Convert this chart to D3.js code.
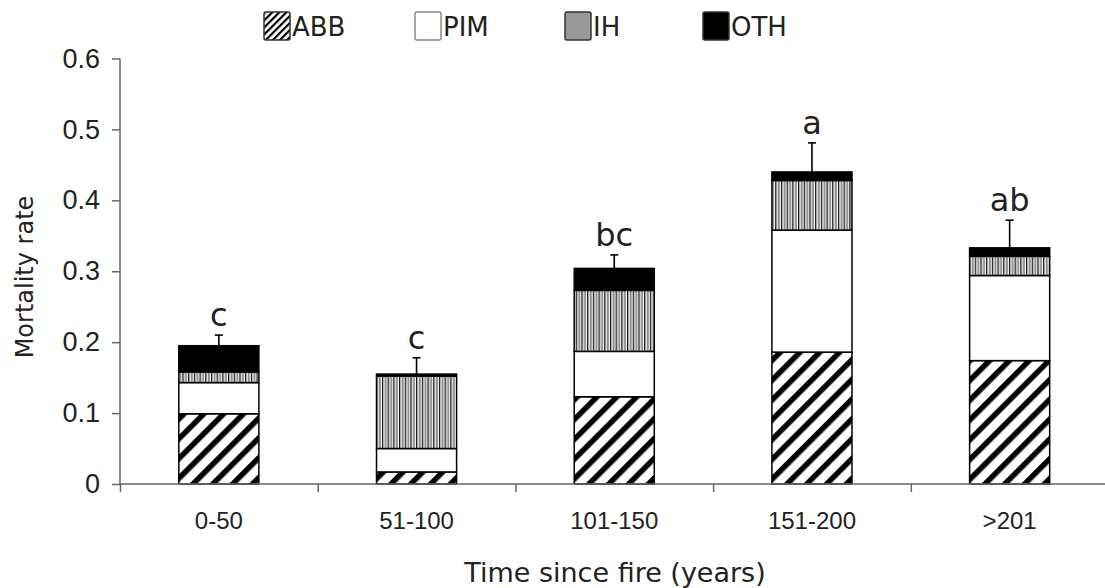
<!DOCTYPE html>
<html>
<head>
<meta charset="utf-8">
<script src="https://cdn.jsdelivr.net/npm/d3@7"></script>
<style>
  body { margin: 0; background: #fff; }
  svg { display: block; font-family: "DejaVu Sans", Verdana, sans-serif; }
</style>
</head>
<body>
<div id="chart"></div>
<script>
// data
const categories = ["0-50", "51-100", "101-150", "151-200", ">201"];
const seriesNames = ["ABB", "PIM", "IH", "OTH"];
const abb = [0.099, 0.017, 0.123, 0.186, 0.174];
const pim = [0.044, 0.033, 0.064, 0.172, 0.120];
const ih  = [0.015, 0.102, 0.086, 0.070, 0.027];
const oth = [0.037, 0.003, 0.031, 0.012, 0.012];
const se  = [0.015, 0.023, 0.019, 0.041, 0.039];
const letters = ["c", "c", "bc", "a", "ab"];
const yTicks = [0, 0.1, 0.2, 0.3, 0.4, 0.5, 0.6];

const width = 1105, height = 588;
const margin = {top: 58.5, right: -3.5, bottom: 104, left: 120};

const svg = d3.select("#chart").append("svg")
    .attr("width", width)
    .attr("height", height);

// patterns
const defs = svg.append("defs");

let pAbb = defs.append("pattern")
    .attr("id", "abb")
    .attr("patternUnits", "userSpaceOnUse")
    .attr("width", 14).attr("height", 14)
    .attr("patternTransform", "rotate(45)");
pAbb.append("rect").attr("width", 14).attr("height", 14).attr("fill", "#fff");
pAbb.append("rect").attr("width", 5.5).attr("height", 14).attr("fill", "#000");

let pAbbSmall = defs.append("pattern")
    .attr("id", "abbSmall")
    .attr("patternUnits", "userSpaceOnUse")
    .attr("width", 5).attr("height", 5)
    .attr("patternTransform", "rotate(45)");
pAbbSmall.append("rect").attr("width", 5).attr("height", 5).attr("fill", "#fff");
pAbbSmall.append("rect").attr("width", 2.2).attr("height", 5).attr("fill", "#000");

let pIh = defs.append("pattern")
    .attr("id", "ih")
    .attr("patternUnits", "userSpaceOnUse")
    .attr("width", 5.7).attr("height", 10);
pIh.append("rect").attr("width", 5.7).attr("height", 10).attr("fill", "#fff");
pIh.append("rect").attr("x", 0).attr("width", 1.3).attr("height", 10).attr("fill", "#111");
pIh.append("rect").attr("x", 2.6).attr("width", 2).attr("height", 10).attr("fill", "#8a8a8a");

const fills = {ABB: "url(#abb)", PIM: "#fff", IH: "url(#ih)", OTH: "#000"};
const legendFills = {ABB: "url(#abbSmall)", PIM: "#fff", IH: "#999", OTH: "#000"};

// stack
const rows = categories.map((c, i) => ({cat: c, ABB: abb[i], PIM: pim[i], IH: ih[i], OTH: oth[i], se: se[i], letter: letters[i]}));
const stacked = d3.stack().keys(seriesNames)(rows);

// scales
const x = d3.scaleBand()
    .domain(categories)
    .range([margin.left, width - margin.right])
    .paddingInner(0.595)
    .paddingOuter(0.2975);

const xEdge = d3.scaleLinear()
    .domain([0, categories.length])
    .range([margin.left, width - margin.right]);

const y = d3.scaleLinear()
    .domain([0, 0.6])
    .range([height - margin.bottom, margin.top]);

// bars
const layers = svg.append("g").selectAll("g")
    .data(stacked)
    .join("g")
    .attr("fill", d => fills[d.key]);

layers.selectAll("rect")
    .data(d => d)
    .join("rect")
    .attr("x", d => x(d.data.cat))
    .attr("y", d => y(d[1]))
    .attr("width", x.bandwidth())
    .attr("height", d => y(d[0]) - y(d[1]))
    .attr("stroke", "#000")
    .attr("stroke-width", 1.5);

// error bars
const totals = rows.map(r => r.ABB + r.PIM + r.IH + r.OTH);
const err = svg.append("g").attr("stroke", "#000").attr("stroke-width", 1.6);
rows.forEach((r, i) => {
    let cx = x(r.cat) + x.bandwidth() / 2;
    err.append("line")
        .attr("x1", cx).attr("x2", cx)
        .attr("y1", y(totals[i])).attr("y2", y(totals[i] + r.se));
    err.append("line")
        .attr("x1", cx - 4).attr("x2", cx + 4)
        .attr("y1", y(totals[i] + r.se)).attr("y2", y(totals[i] + r.se));
});

// letters
svg.append("g").selectAll("text")
    .data(rows)
    .join("text")
    .attr("x", d => x(d.cat) + x.bandwidth() / 2)
    .attr("y", (d, i) => y(totals[i] + d.se) - 9)
    .attr("text-anchor", "middle")
    .attr("font-size", 32)
    .attr("fill", "#222")
    .text(d => d.letter);

// y axis
const yAxis = d3.axisLeft(y)
    .tickValues(yTicks)
    .tickSize(8)
    .tickPadding(12)
    .tickFormat(d => d === 0 ? "0" : d3.format(".1f")(d));

const yG = svg.append("g")
    .attr("transform", "translate(" + margin.left + ",0)")
    .call(yAxis);
yG.select(".domain").attr("stroke", "#666").attr("stroke-width", 1.5).attr("d", "M0," + y(0.6) + "V" + y(0));
yG.selectAll(".tick line").attr("stroke", "#666").attr("stroke-width", 1.5);
yG.selectAll(".tick text").attr("font-size", 27).attr("fill", "#222").attr("font-family", null);

// x axis: ticks on category edges
const xEdgeAxis = d3.axisBottom(xEdge)
    .tickValues(d3.range(0, categories.length))
    .tickSize(8)
    .tickFormat("");

const xG = svg.append("g")
    .attr("transform", "translate(0," + y(0) + ")")
    .call(xEdgeAxis);
xG.select(".domain").attr("stroke", "#666").attr("stroke-width", 1.5).attr("d", "M" + margin.left + ",0H" + (width - margin.right));
xG.selectAll(".tick line").attr("stroke", "#666").attr("stroke-width", 1.5);

const xLabels = d3.axisBottom(x).tickSize(0).tickPadding(28);
const xlG = svg.append("g")
    .attr("transform", "translate(0," + y(0) + ")")
    .call(xLabels);
xlG.select(".domain").remove();
xlG.selectAll(".tick text").attr("font-size", 24).attr("fill", "#222").attr("font-family", null);

// axis titles
svg.append("text")
    .attr("x", 615)
    .attr("y", 582)
    .attr("text-anchor", "middle")
    .attr("font-size", 27)
    .attr("fill", "#222")
    .text("Time since fire (years)");

svg.append("text")
    .attr("transform", "translate(33,277) rotate(-90)")
    .attr("text-anchor", "middle")
    .attr("font-size", 24)
    .attr("fill", "#222")
    .text("Mortality rate");

// legend
const legendX = [264, 415, 565, 703];
const legend = svg.append("g").selectAll("g")
    .data(seriesNames)
    .join("g")
    .attr("transform", (d, i) => "translate(" + legendX[i] + ",12)");

legend.append("rect")
    .attr("width", 26).attr("height", 28)
    .attr("rx", 2)
    .attr("fill", d => legendFills[d])
    .attr("stroke", d => d === "PIM" ? "#888" : "#333")
    .attr("stroke-width", 1.5);

legend.append("text")
    .attr("x", 28)
    .attr("y", 24)
    .attr("font-size", 26)
    .attr("fill", "#222")
    .text(d => d);
</script>
</body>
</html>
